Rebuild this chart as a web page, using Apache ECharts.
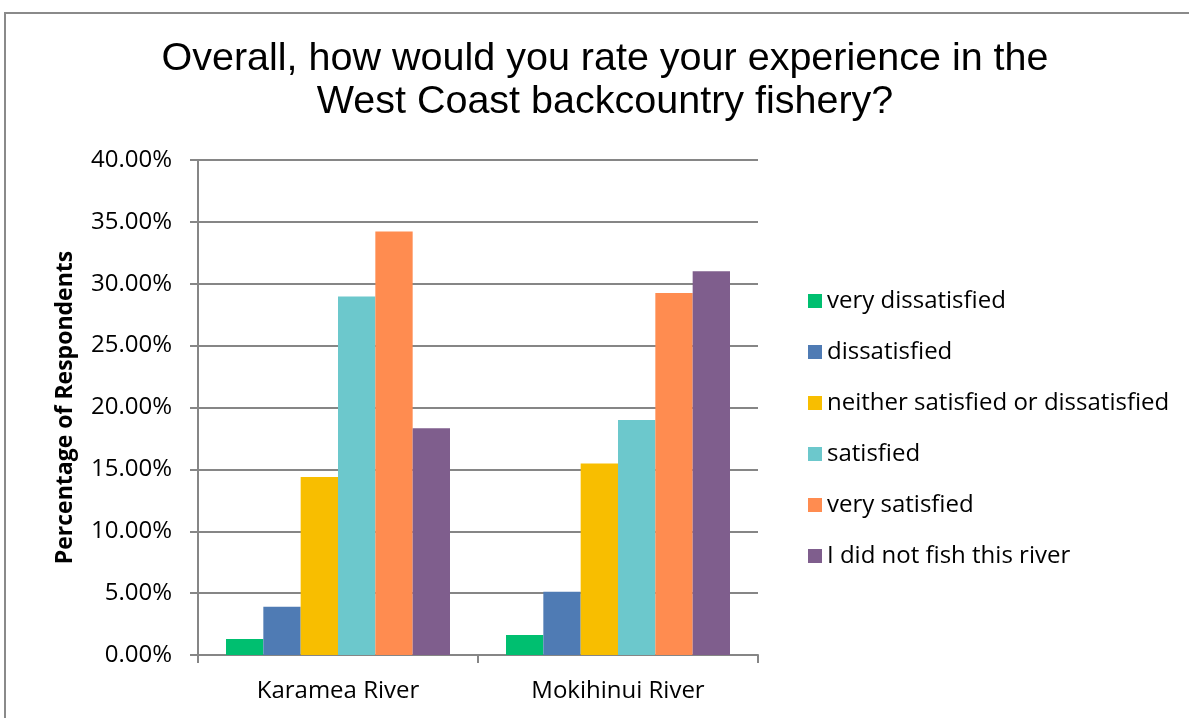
<!DOCTYPE html>
<html>
<head>
<meta charset="utf-8">
<title>West Coast backcountry fishery</title>
<script src="https://cdn.jsdelivr.net/npm/echarts@6/dist/echarts.min.js"></script>
<style>
  html, body { margin: 0; padding: 0; background: #ffffff; }
  #chart { width: 1189px; height: 718px; }
</style>
</head>
<body>
<div id="chart"></div>
<script>
// Rivers on the x axis
const rivers = ['Karamea River', 'Mokihinui River'];

// Response categories (one bar series each)
const responses = [
  'very dissatisfied',
  'dissatisfied',
  'neither satisfied or dissatisfied',
  'satisfied',
  'very satisfied',
  'I did not fish this river'
];

// Percentage of respondents per river, in response order
const veryDissatisfied = [1.29, 1.62];
const dissatisfied     = [3.89, 5.12];
const neither          = [14.38, 15.48];
const satisfied        = [28.96, 18.99];
const verySatisfied    = [34.22, 29.26];
const didNotFish       = [18.33, 31.01];

const seriesValues = [veryDissatisfied, dissatisfied, neither, satisfied, verySatisfied, didNotFish];
const seriesColors = ['#00BF70', '#4F7BB4', '#F8BE00', '#6CC8CC', '#FF8C50', '#7F5E8D'];

// Value axis ticks (percent)
const yMin = 0;
const yMax = 40;
const yStep = 5;

const titleLines = [
  'Overall, how would you rate your experience in the',
  'West Coast backcountry fishery?'
];

const chart = echarts.init(document.getElementById('chart'), null, { renderer: 'canvas' });

const labelFont = '"Open Sans", "DejaVu Sans", sans-serif';
const titleFont = '39.5px "Liberation Sans", Arial, sans-serif';

chart.setOption({
  animation: false,
  backgroundColor: '#ffffff',
  graphic: [
    {
      // chart frame (top and left edges)
      type: 'polyline',
      shape: { points: [[5, 730], [5, 13], [1200, 13]] },
      style: { stroke: '#8a8a8a', lineWidth: 2, fill: null },
      silent: true
    },
    {
      type: 'text',
      x: 605, y: 79,
      style: {
        text: titleLines[0],
        font: titleFont,
        fill: '#000000',
        textAlign: 'center',
        textVerticalAlign: 'bottom'
      }
    },
    {
      type: 'text',
      x: 605, y: 122,
      style: {
        text: titleLines[1],
        font: titleFont,
        fill: '#000000',
        textAlign: 'center',
        textVerticalAlign: 'bottom'
      }
    }
  ],
  legend: {
    orient: 'vertical',
    left: 803,
    top: 284,
    icon: 'rect',
    itemWidth: 14,
    itemHeight: 14,
    itemGap: 27,
    data: responses,
    textStyle: {
      fontFamily: labelFont,
      fontSize: 24,
      lineHeight: 24,
      color: '#000000'
    }
  },
  grid: {
    left: 198,
    right: 431,
    top: 160,
    bottom: 63,
    containLabel: false
  },
  xAxis: {
    type: 'category',
    data: rivers,
    axisLine: { show: true, lineStyle: { color: '#868686', width: 2 } },
    axisTick: { show: true, length: 8, lineStyle: { color: '#868686', width: 2 } },
    axisLabel: {
      fontFamily: labelFont,
      fontSize: 24,
      color: '#000000',
      margin: 24
    },
    splitLine: { show: false }
  },
  yAxis: {
    type: 'value',
    min: yMin,
    max: yMax,
    interval: yStep,
    name: 'Percentage of Respondents',
    nameLocation: 'middle',
    nameGap: 121,
    nameRotate: 90,
    nameTextStyle: {
      fontFamily: labelFont,
      fontWeight: 'bold',
      fontSize: 23,
      color: '#000000'
    },
    axisLine: { show: true, lineStyle: { color: '#868686', width: 2 } },
    axisTick: { show: true, length: 8, inside: false, lineStyle: { color: '#868686', width: 2 } },
    axisLabel: {
      fontFamily: labelFont,
      fontSize: 24,
      color: '#000000',
      margin: 26,
      formatter: v => v.toFixed(2) + '%'
    },
    splitLine: { show: true, lineStyle: { color: '#868686', width: 2 } }
  },
  series: responses.map((name, i) => ({
    name: name,
    type: 'bar',
    data: seriesValues[i],
    barGap: '0%',
    barCategoryGap: '20%',
    itemStyle: { color: seriesColors[i] }
  }))
});
</script>
</body>
</html>
